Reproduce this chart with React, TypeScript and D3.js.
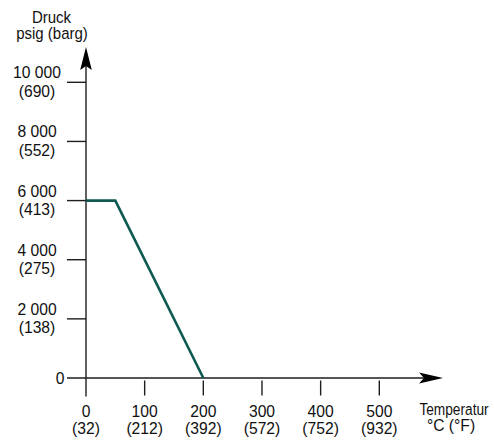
import React from "react";
import * as d3 from "d3";

const temps = [0, 50, 200];
const pressures = [6000, 6000, 0];

const yTicks = [2000, 4000, 6000, 8000, 10000];
const yTickPsig = ["2 000", "4 000", "6 000", "8 000", "10 000"];
const yTickBarg = ["(138)", "(275)", "(413)", "(552)", "(690)"];

const xTicks = [0, 100, 200, 300, 400, 500];
const xTickC = ["0", "100", "200", "300", "400", "500"];
const xTickF = ["(32)", "(212)", "(392)", "(572)", "(752)", "(932)"];

const W = 494;
const H = 443;
const FONT = "'Liberation Sans', Arial, sans-serif";
const AXIS = "#1e1e1e";
const LINE = "#0e5a50";

function T({
  x,
  y,
  sx = 0.95,
  anchor = "middle",
  size = 16.5,
  children,
}: {
  x: number;
  y: number;
  sx?: number;
  anchor?: string;
  size?: number;
  children: React.ReactNode;
}) {
  return (
    <text
      transform={`translate(${x},${y}) scale(${sx},1)`}
      fontSize={size}
      textAnchor={anchor}
      fill="#111"
      fontFamily={FONT}
    >
      {children}
    </text>
  );
}

export default function App() {
  const x = d3.scaleLinear().domain([0, 500]).range([86, 379.3]);
  const y = d3.scaleLinear().domain([0, 10000]).range([378, 82.3]);
  const x0 = x(0);
  const y0 = y(0);

  const line = d3
    .line<number>()
    .x((_, i) => x(temps[i]))
    .y((d) => y(d));

  return (
    <svg
      width={W}
      height={H}
      style={{ position: "absolute", left: 0, top: 0, background: "#fff" }}
    >
      <rect x={0} y={0} width={W} height={H} fill="#fff" />
      {/* y axis */}
      <line x1={x0} x2={x0} y1={62} y2={396.5} stroke={AXIS} strokeWidth={1.4} />
      <polygon
        points={`${x0},47 ${x0 - 5.8},70 ${x0},66 ${x0 + 5.8},70`}
        fill="#000"
      />
      {/* x axis */}
      <line x1={67} x2={430} y1={y0} y2={y0} stroke={AXIS} strokeWidth={1.4} />
      <polygon
        points={`443,${y0} 419,${y0 - 5.5} 424,${y0} 419,${y0 + 5.5}`}
        fill="#000"
      />
      {/* y ticks */}
      {yTicks.map((t, i) => (
        <g key={"yt" + t}>
          <line x1={67} x2={x0} y1={y(t)} y2={y(t)} stroke={AXIS} strokeWidth={1.4} />
          <T x={37} y={y(t) - 4}>{yTickPsig[i]}</T>
          <T x={37} y={y(t) + 14.5}>{yTickBarg[i]}</T>
        </g>
      ))}
      <T x={64.5} y={y0 + 6} anchor="end">
        0
      </T>
      {/* x ticks */}
      {xTicks.map((t, i) => (
        <g key={"xt" + t}>
          {t !== 0 && (
            <line x1={x(t)} x2={x(t)} y1={380.5} y2={395.5} stroke={AXIS} strokeWidth={1.4} />
          )}
          <T x={x(t)} y={416.5}>{xTickC[i]}</T>
          <T x={x(t)} y={434}>{xTickF[i]}</T>
        </g>
      ))}
      {/* axis titles */}
      <T x={51.5} y={23.3} sx={0.91}>
        Druck
      </T>
      <T x={52} y={38.5} sx={0.91}>
        psig (barg)
      </T>
      <T x={454} y={415} sx={0.83}>
        Temperatur
      </T>
      <T x={451} y={430.5} sx={0.95}>
        °C (°F)
      </T>
      {/* data line */}
      <path
        d={line(pressures) || ""}
        fill="none"
        stroke={LINE}
        strokeWidth={2.6}
        strokeLinejoin="miter"
      />
    </svg>
  );
}
